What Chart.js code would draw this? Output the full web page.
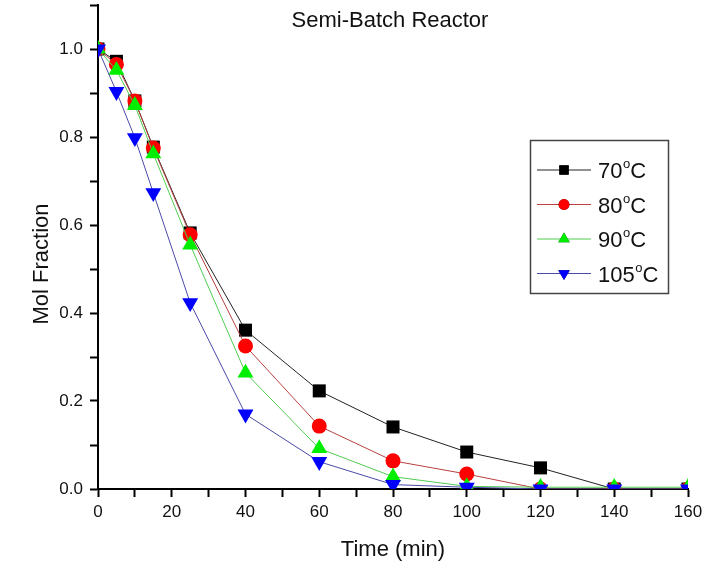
<!DOCTYPE html>
<html>
<head>
<meta charset="utf-8">
<title>Semi-Batch Reactor</title>
<script src="https://cdn.jsdelivr.net/npm/chart.js@4.4.0/dist/chart.umd.min.js"></script>
<style>
  html, body { margin: 0; padding: 0; background: #fff; }
  #chart { display: block; }
</style>
</head>
<body>
<canvas id="chart" width="715" height="565"></canvas>
<script>
// sampling times (min)
const times = [0, 5, 10, 15, 25, 40, 60, 80, 100, 120, 140, 160];

// mol fraction per reactor temperature
const mol70 = [1.0, 0.972, 0.882, 0.777, 0.582, 0.361, 0.223, 0.141, 0.084, 0.048, 0, 0];
const mol80 = [1.0, 0.965, 0.882, 0.775, 0.578, 0.325, 0.143, 0.064, 0.034, 0, 0, 0];
const mol90 = [1.0, 0.952, 0.872, 0.762, 0.555, 0.264, 0.092, 0.028, 0.006, 0.004, 0.004, 0.004];
const mol105 = [1.0, 0.903, 0.798, 0.673, 0.423, 0.170, 0.062, 0.010, 0.004, 0, 0, 0];

const seriesLabels = ['70', '80', '90', '105'];

const FONT = '"Liberation Sans", Arial, sans-serif';
Chart.defaults.font.family = FONT;
Chart.defaults.color = '#111';

function toPoints(ys) {
    return times.map((t, i) => ({ x: t, y: ys[i] }));
}

function makeSet(label, ys, line, fill, style, radius, rotation, order) {
    return {
        label: label,
        data: toPoints(ys),
        borderColor: line,
        borderWidth: 1,
        pointBackgroundColor: fill,
        pointBorderColor: fill,
        pointBorderWidth: 0,
        pointStyle: style,
        pointRadius: radius,
        pointRotation: rotation,
        pointHoverRadius: radius,
        legendRadius: radius * 0.72,
        tension: 0,
        order: order
    };
}

const datasets = [
    makeSet(seriesLabels[0], mol70, '#222222', '#000000', 'rect', 9.2, 0, 4),
    makeSet(seriesLabels[1], mol80, '#b84040', '#ff0000', 'circle', 7.5, 0, 3),
    makeSet(seriesLabels[2], mol90, '#50cc50', '#00ee00', 'triangle', 9.2, 0, 2),
    makeSet(seriesLabels[3], mol105, '#4a4aa8', '#0000ff', 'triangle', 9.2, 180, 1)
];

// "70°C" style label with a small raised o
function drawTemp(ctx, text, x, y) {
    ctx.font = '22px ' + FONT;
    ctx.textBaseline = 'alphabetic';
    ctx.textAlign = 'left';
    ctx.fillText(text, x, y);
    let w = ctx.measureText(text).width;
    ctx.font = '13px ' + FONT;
    ctx.fillText('o', x + w + 0.5, y - 10);
    w += ctx.measureText('o').width + 0.5;
    ctx.font = '22px ' + FONT;
    ctx.fillText('C', x + w, y);
}

const decorations = {
    id: 'decorations',
    afterDraw(chart) {
        const ctx = chart.ctx;
        ctx.save();
        ctx.fillStyle = '#111';

        // plot title inside the frame
        ctx.font = '22px ' + FONT;
        ctx.textAlign = 'center';
        ctx.textBaseline = 'alphabetic';
        ctx.fillText('Semi-Batch Reactor', 390, 27);

        // y axis title
        ctx.save();
        ctx.translate(48, 264);
        ctx.rotate(-Math.PI / 2);
        ctx.font = '22px ' + FONT;
        ctx.textAlign = 'center';
        ctx.fillText('Mol Fraction', 0, 0);
        ctx.restore();

        // legend box
        const bx = 530.5, by = 140.5, bw = 138, bh = 153;
        ctx.strokeStyle = '#444';
        ctx.lineWidth = 1.5;
        ctx.strokeRect(bx, by, bw, bh);

        chart.data.datasets.forEach((ds, i) => {
            const y = 170 + i * 34.5;
            ctx.strokeStyle = ds.borderColor;
            ctx.lineWidth = 1;
            ctx.beginPath();
            ctx.moveTo(537, y);
            ctx.lineTo(591, y);
            ctx.stroke();
            Chart.helpers.drawPoint(ctx, {
                pointStyle: ds.pointStyle,
                radius: ds.legendRadius,
                rotation: ds.pointRotation,
                borderWidth: 0
            }, 564, y);
            ctx.fillStyle = ds.pointBackgroundColor;
            ctx.fill();
            ctx.fillStyle = '#111';
            drawTemp(ctx, ds.label, 598, y + 8);
        });
        ctx.restore();
    }
};

function tickLabel(step) {
    return function (value) {
        const n = Math.round(value / step);
        if (n % 2 !== 0) return '';
        return this.chart.config.options.scales[this.id].labelFmt(value);
    };
}

new Chart(document.getElementById('chart'), {
    type: 'line',
    data: { datasets: datasets },
    options: {
        responsive: false,
        animation: false,
        layout: {
            autoPadding: false,
            padding: { top: 5, right: 27, left: 0, bottom: 0 }
        },
        plugins: {
            legend: { display: false },
            tooltip: { enabled: false },
            title: { display: false }
        },
        scales: {
            x: {
                type: 'linear',
                min: 0,
                max: 160,
                labelFmt: v => String(Math.round(v)),
                border: { display: true, color: '#000', width: 2 },
                grid: {
                    drawOnChartArea: false,
                    drawTicks: true,
                    tickLength: 8,
                    tickWidth: 2,
                    tickColor: '#000'
                },
                ticks: {
                    stepSize: 10,
                    autoSkip: false,
                    maxRotation: 0,
                    padding: 5,
                    color: '#111',
                    font: { size: 17 },
                    callback: tickLabel(10)
                },
                title: {
                    display: true,
                    text: 'Time (min)',
                    color: '#111',
                    font: { size: 22 },
                    padding: { top: 0, bottom: 2 }
                },
                afterFit(scale) { scale.height = 76; }
            },
            y: {
                type: 'linear',
                min: 0,
                max: 1.1,
                labelFmt: v => v.toFixed(1),
                border: { display: true, color: '#000', width: 2 },
                grid: {
                    drawOnChartArea: false,
                    drawTicks: true,
                    tickLength: 8,
                    tickWidth: 2,
                    tickColor: '#000'
                },
                ticks: {
                    stepSize: 0.1,
                    autoSkip: false,
                    padding: 7,
                    color: '#111',
                    font: { size: 17 },
                    callback: tickLabel(0.1)
                },
                afterFit(scale) {
                    scale.width = 98;
                    scale.paddingTop = 0;
                    scale.paddingBottom = 0;
                }
            }
        }
    },
    plugins: [decorations]
});
</script>
</body>
</html>
